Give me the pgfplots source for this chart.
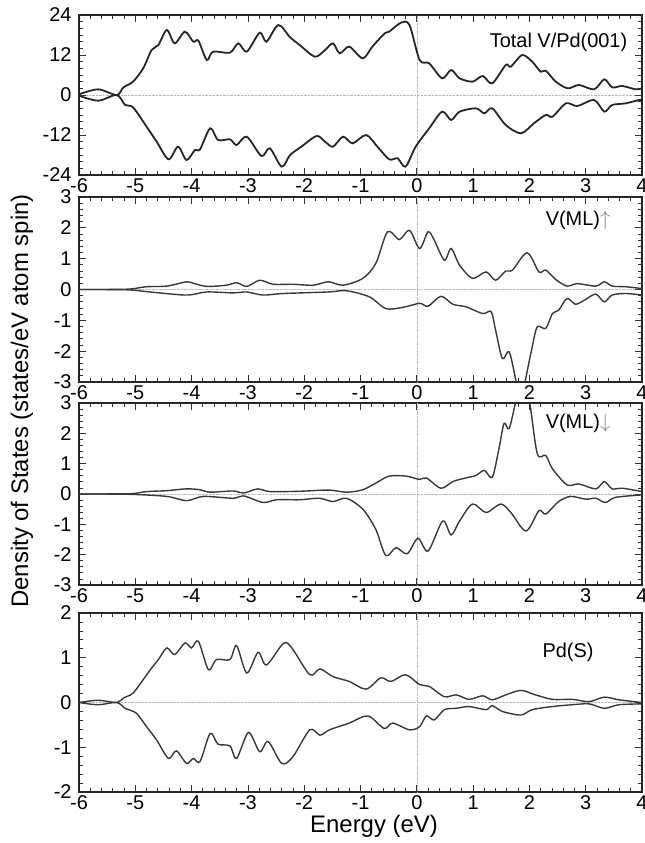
\documentclass[border=0pt]{standalone}
\usepackage{fontspec}
\setmainfont{Liberation Sans}
\usepackage{pgfplots}
\pgfplotsset{compat=1.18}

\definecolor{curve}{HTML}{383838}

\pgfplotsset{
  dospanel/.style={
    scale only axis, width=563bp, anchor=north west,
    xmin=-6, xmax=4, xtick={-6,...,4},
    minor x tick num=4,
    tick align=inside, ticks=both,
    major tick length=7bp, minor tick length=4bp,
    axis line style={line width=1.8pt, black!85},
    every tick/.style={black!80, line width=0.8pt},
    font=\fontsize{20}{23}\selectfont,
    tick label style={font=\fontsize{20}{23}\selectfont},
    /pgf/number format/assume math mode=true,
    yticklabel style={xshift=-4bp},
    extra x ticks={0}, extra x tick labels={},
    extra y ticks={0}, extra y tick labels={},
    extra tick style={grid=major, major grid style={gray!55, densely dotted, line width=0.6pt}},
  },
  dos/.style={curve, line width=1.4pt, smooth, tension=0.5, no marks},
}

\begin{document}
\begin{tikzpicture}
\useasboundingbox (0,0) rectangle (645bp,-843bp);

% Total V/Pd(001)
\begin{axis}[dospanel, at={(79bp,-15bp)}, height=160bp,
  ymin=-24, ymax=24, ytick={-24,-12,0,12,24}, minor y tick num=5]
\addplot[dos, line width=1.8pt, black!85] coordinates {
(-6,0.2) (-5.66,1.7) (-5.33,0) (-5.21,2.3) (-5.04,4) (-4.86,8) (-4.71,13.5) (-4.59,15)
(-4.44,19.5) (-4.30,15.5) (-4.12,19) (-3.97,16) (-3.88,16.3) (-3.73,10.5) (-3.62,13)
(-3.32,12.7) (-3.17,15.5) (-3.02,13) (-2.79,18.7) (-2.67,16) (-2.46,21) (-2.25,17.3)
(-2.08,15) (-1.81,11.5) (-1.63,13.5) (-1.49,15.5) (-1.37,12.5) (-1.20,14.5) (-0.96,11)
(-0.79,14.5) (-0.57,18.5) (-0.49,19) (-0.28,21.7) (-0.13,21) (0.05,10.5) (0.22,9.5)
(0.45,5) (0.61,7.5) (0.76,5) (0.99,4) (1.17,5.7) (1.34,3.5) (1.58,9) (1.67,8.5)
(1.87,12) (2.05,10) (2.20,7) (2.29,7.3) (2.47,4) (2.68,2) (2.88,3) (3.15,1.7)
(3.33,4.7) (3.47,2.3) (3.65,2.7) (3.89,1.7) (4,2)
};
\addplot[dos, line width=1.8pt, black!85] coordinates {
(-6,-0.2) (-5.66,-1.7) (-5.33,0) (-5.18,-3) (-5.04,-3.7) (-4.80,-9.5) (-4.62,-14)
(-4.41,-19.3) (-4.24,-15.5) (-4.09,-19.5) (-3.94,-16.5) (-3.85,-16.3) (-3.67,-10)
(-3.53,-13.5) (-3.32,-13.3) (-3.20,-15) (-3.02,-12.5) (-2.76,-18.3) (-2.61,-16)
(-2.40,-21.5) (-2.25,-18) (-2.05,-15.5) (-1.78,-12.3) (-1.63,-14) (-1.49,-15.5)
(-1.31,-12.5) (-1.14,-14.5) (-0.90,-12) (-0.70,-15.5) (-0.49,-19.3) (-0.34,-19)
(-0.20,-21.5) (-0.02,-15.5) (0.22,-10) (0.45,-5) (0.61,-7.5) (0.76,-5) (1.05,-4)
(1.20,-5.5) (1.34,-4) (1.58,-9) (1.85,-11.5) (2.08,-8.5) (2.29,-6) (2.41,-6.5)
(2.65,-2.5) (2.85,-3.3) (3.15,-1.5) (3.33,-5) (3.47,-3) (3.71,-2.5) (3.95,-1.5) (4,-1.6)
};
\node[anchor=east] at (rel axis cs:0.98,0.83) {Total V/Pd(001)};
\end{axis}

% V(ML) up
\begin{axis}[dospanel, at={(79bp,-197bp)}, height=185bp,
  ymin=-3, ymax=3, ytick={-3,...,3}, minor y tick num=4]
\addplot[dos] coordinates {
(-6,0) (-5.15,0.01) (-4.8,0.09) (-4.44,0.11) (-4.09,0.25) (-3.97,0.2) (-3.73,0.1)
(-3.38,0.14) (-3.20,0.22) (-3.02,0.1) (-2.79,0.3) (-2.55,0.17) (-2.2,0.17) (-1.84,0.14)
(-1.57,0.25) (-1.31,0.14) (-0.96,0.36) (-0.73,0.84) (-0.52,1.87) (-0.31,1.62)
(-0.13,1.92) (0.05,1.33) (0.20,1.87) (0.31,1.6) (0.49,0.95) (0.61,1.33) (0.76,0.79)
(0.99,0.36) (1.23,0.57) (1.40,0.3) (1.58,0.6) (1.70,0.63) (1.96,1.19) (2.17,0.57)
(2.29,0.63) (2.47,0.32) (2.67,0.11) (2.85,0.19) (3.18,0.11) (3.33,0.25) (3.47,0.11)
(3.71,0.09) (4,0.03)
};
\addplot[dos] coordinates {
(-6,0) (-5.15,-0.01) (-4.74,-0.08) (-4.09,-0.18) (-3.73,-0.08) (-3.26,-0.11)
(-3.02,-0.08) (-2.73,-0.18) (-2.37,-0.13) (-1.57,-0.08) (-1.25,-0.04) (-0.84,-0.24)
(-0.55,-0.62) (-0.25,-0.58) (0.05,-0.45) (0.20,-0.54) (0.43,-0.22) (0.64,-0.48)
(0.87,-0.56) (1.17,-0.78) (1.32,-0.72) (1.40,-1.32) (1.52,-2.24) (1.64,-2.02)
(1.76,-2.94) (1.86,-3.7) (1.93,-2.94) (2.05,-1.86) (2.14,-1.21) (2.29,-1.26)
(2.41,-0.78) (2.52,-0.67) (2.67,-0.29) (2.82,-0.48) (3.00,-0.32) (3.18,-0.15)
(3.33,-0.4) (3.47,-0.18) (3.71,-0.13) (4,-0.18)
};
\node[anchor=east] at (rel axis cs:0.95,0.875) {V(ML)\textcolor{gray}{$\uparrow$}};
\end{axis}

% V(ML) down
\begin{axis}[dospanel, at={(79bp,-403bp)}, height=182bp,
  ymin=-3, ymax=3, ytick={-3,...,3}, minor y tick num=4]
\addplot[dos] coordinates {
(-6,0) (-5.1,0.01) (-4.8,0.08) (-4.44,0.11) (-4.09,0.17) (-3.85,0.14) (-3.67,0.06)
(-3.26,0.1) (-3.08,0.03) (-2.82,0.17) (-2.61,0.08) (-2.08,0.09) (-1.57,0.13)
(-1.25,0.06) (-0.96,0.14) (-0.70,0.39) (-0.49,0.59) (-0.19,0.59) (0.05,0.48)
(0.17,0.53) (0.43,0.19) (0.64,0.41) (0.87,0.53) (1.05,0.61) (1.20,0.78) (1.34,0.55)
(1.46,1.5) (1.55,2.33) (1.64,2.16) (1.76,3.05) (1.87,3.7) (2.00,3.05) (2.14,1.33)
(2.29,1.27) (2.41,0.83) (2.67,0.3) (2.88,0.33) (3.18,0.17) (3.33,0.41) (3.47,0.17)
(3.65,0.19) (4,0.08)
};
\addplot[dos] coordinates {
(-6,0) (-5.1,-0.01) (-4.44,-0.08) (-4.09,-0.22) (-3.79,-0.08) (-3.26,-0.14)
(-3.08,-0.06) (-2.73,-0.28) (-2.49,-0.19) (-2.08,-0.19) (-1.73,-0.14) (-1.49,-0.25)
(-1.25,-0.14) (-0.96,-0.5) (-0.73,-1.16) (-0.55,-2.03) (-0.37,-1.77) (-0.17,-1.97)
(0.02,-1.46) (0.20,-1.88) (0.46,-0.89) (0.61,-1.35) (0.76,-0.89) (0.99,-0.33)
(1.23,-0.61) (1.49,-0.33) (1.67,-0.61) (1.94,-1.22) (2.17,-0.55) (2.29,-0.66)
(2.52,-0.25) (2.73,-0.08) (3.00,-0.17) (3.18,-0.14) (3.35,-0.28) (3.53,-0.11) (4,-0.03)
};
\node[anchor=east] at (rel axis cs:0.95,0.89) {V(ML)\textcolor{gray}{$\downarrow$}};
\end{axis}

% Pd(S)
\begin{axis}[dospanel, at={(79bp,-613bp)}, height=179bp,
  ymin=-2, ymax=2, ytick={-2,...,2}, minor y tick num=4]
\addplot[dos] coordinates {
(-6,0) (-5.66,0.05) (-5.33,0) (-5.21,0.1) (-5.04,0.21) (-4.86,0.51) (-4.71,0.77)
(-4.59,0.96) (-4.44,1.22) (-4.30,1.07) (-4.12,1.33) (-4.0,1.22) (-3.88,1.37)
(-3.70,0.73) (-3.56,0.96) (-3.32,0.96) (-3.20,1.27) (-3.02,0.66) (-2.82,1.12)
(-2.67,0.84) (-2.37,1.32) (-2.22,1.22) (-1.90,0.62) (-1.72,0.75) (-1.49,0.58)
(-1.20,0.47) (-0.90,0.3) (-0.64,0.55) (-0.46,0.47) (-0.20,0.62) (0.05,0.4)
(0.22,0.36) (0.49,0.13) (0.70,0.17) (0.93,0.07) (1.17,0.15) (1.34,0.06) (1.58,0.17)
(1.85,0.27) (2.11,0.17) (2.41,0.07) (2.76,0.07) (3.06,0.02) (3.33,0.12) (3.59,0.06) (4,0)
};
\addplot[dos] coordinates {
(-6,0) (-5.66,-0.05) (-5.33,0) (-5.18,-0.13) (-4.98,-0.24) (-4.80,-0.54) (-4.62,-0.84)
(-4.41,-1.25) (-4.27,-1.08) (-4.09,-1.36) (-3.97,-1.25) (-3.85,-1.32) (-3.67,-0.69)
(-3.53,-0.93) (-3.32,-0.97) (-3.20,-1.25) (-2.99,-0.67) (-2.79,-1.10) (-2.64,-0.87)
(-2.40,-1.36) (-2.20,-1.21) (-1.90,-0.61) (-1.72,-0.73) (-1.55,-0.61) (-1.20,-0.46)
(-0.87,-0.3) (-0.58,-0.58) (-0.43,-0.46) (-0.13,-0.61) (0.05,-0.54) (0.17,-0.3)
(0.31,-0.39) (0.49,-0.16) (0.70,-0.13) (0.93,-0.09) (1.23,-0.16) (1.34,-0.07)
(1.52,-0.2) (1.85,-0.28) (2.05,-0.16) (2.41,-0.09) (2.76,-0.05) (3.06,-0.03)
(3.33,-0.13) (3.59,-0.05) (4,-0.03)
};
\node[anchor=east] at (rel axis cs:0.92,0.78) {Pd(S)};
\end{axis}

\node[rotate=90, font=\fontsize{24}{28}\selectfont] at (22bp,-401bp)
  {Density of States (states/eV atom spin)};
\node[font=\fontsize{24}{28}\selectfont] at (374bp,-826bp) {Energy (eV)};
\end{tikzpicture}
\end{document}
